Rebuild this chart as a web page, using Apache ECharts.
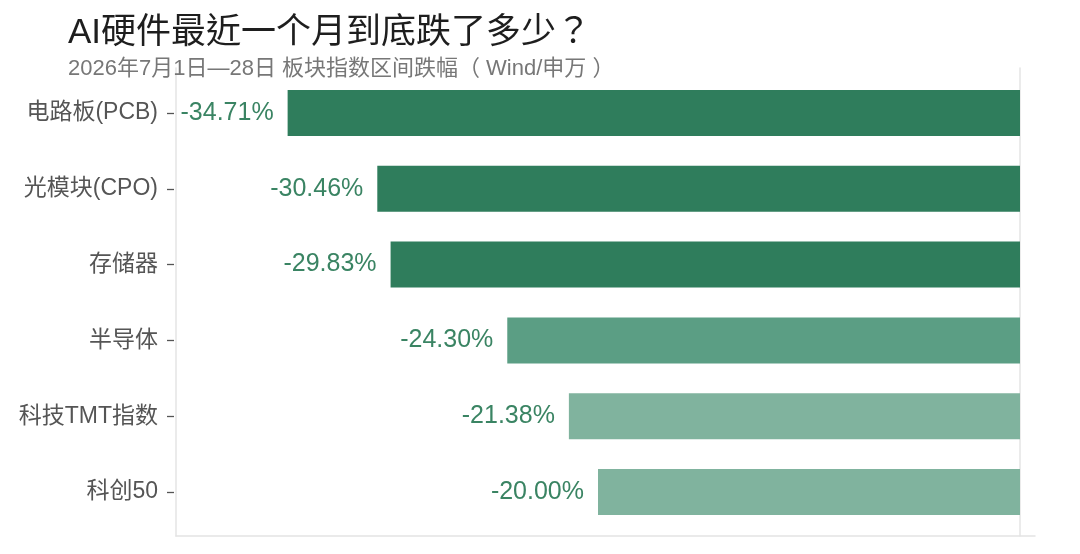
<!DOCTYPE html>
<html>
<head>
<meta charset="utf-8">
<script src="https://cdn.jsdelivr.net/npm/echarts@6/dist/echarts.min.js"></script>
<style>
html,body{margin:0;padding:0;background:#fff;}
#chart{width:1080px;height:554px;}
</style>
</head>
<body>
<div id="chart"></div>
<script>
const categories = ['电路板(PCB)', '光模块(CPO)', '存储器', '半导体', '科技TMT指数', '科创50'];
const values = [-34.71, -30.46, -29.83, -24.30, -21.38, -20.00];
const barColors = ['#2f7d5c', '#2f7d5c', '#2f7d5c', '#5b9e84', '#80b39e', '#80b39e'];

const FONT = '"Liberation Sans", "Noto Sans CJK SC", sans-serif';
const TITLE_FONT = '"Liberation Sans", "Noto Sans CJK TC", sans-serif';
const frameLine = { show: true, onZero: false, lineStyle: { color: '#e4e4e4', width: 1.5 } };

const chart = echarts.init(document.getElementById('chart'));
chart.setOption({
  backgroundColor: '#ffffff',
  animation: false,
  textStyle: { fontFamily: FONT },
  title: {
    text: 'AI硬件最近一个月到底跌了多少？',
    subtext: '2026年7月1日—28日 板块指数区间跌幅（ Wind/申万 ）',
    left: 63,
    top: 11,
    itemGap: 7,
    textStyle: { fontSize: 35, color: '#1e1e1e', fontWeight: 'normal', fontFamily: TITLE_FONT },
    subtextStyle: { fontSize: 22, color: '#777', fontFamily: FONT }
  },
  grid: [
    { left: 176, right: 60, top: 75, bottom: 24 },
    { left: 176, right: 45, top: 68, bottom: 18 },
    { left: 176, right: 60, top: 68, bottom: 18 }
  ],
  xAxis: [
    { gridIndex: 0, type: 'value', min: -40, max: 0, show: false },
    { gridIndex: 1, type: 'value', min: 0, max: 1, axisLine: frameLine,
      axisTick: { show: false }, axisLabel: { show: false }, splitLine: { show: false } },
    { gridIndex: 2, type: 'value', min: 0, max: 1, show: false }
  ],
  yAxis: [
    { gridIndex: 0, type: 'category', data: categories, inverse: true, offset: 2, position: 'left',
      axisLine: { show: true, onZero: false, lineStyle: { color: 'rgba(0,0,0,0)' } },
      axisTick: { show: true, length: 7, alignWithLabel: true, lineStyle: { color: '#555', width: 1.3 } },
      axisLabel: { fontSize: 23, color: '#555', margin: 16, fontFamily: FONT },
      splitLine: { show: false } },
    { gridIndex: 1, type: 'value', min: 0, max: 1, position: 'left', axisLine: frameLine,
      axisTick: { show: false }, axisLabel: { show: false }, splitLine: { show: false } },
    { gridIndex: 2, type: 'value', min: 0, max: 1, position: 'right', axisLine: frameLine,
      axisTick: { show: false }, axisLabel: { show: false }, splitLine: { show: false } }
  ],
  series: [{
    type: 'bar',
    xAxisIndex: 0,
    yAxisIndex: 0,
    barWidth: 46,
    data: values.map((v, i) => ({ value: v, itemStyle: { color: barColors[i] } })),
    label: {
      show: true,
      position: 'left',
      distance: 14,
      fontSize: 25,
      color: '#3a8463',
      fontFamily: FONT,
      formatter: p => p.value.toFixed(2) + '%'
    }
  }]
});
</script>
</body>
</html>
